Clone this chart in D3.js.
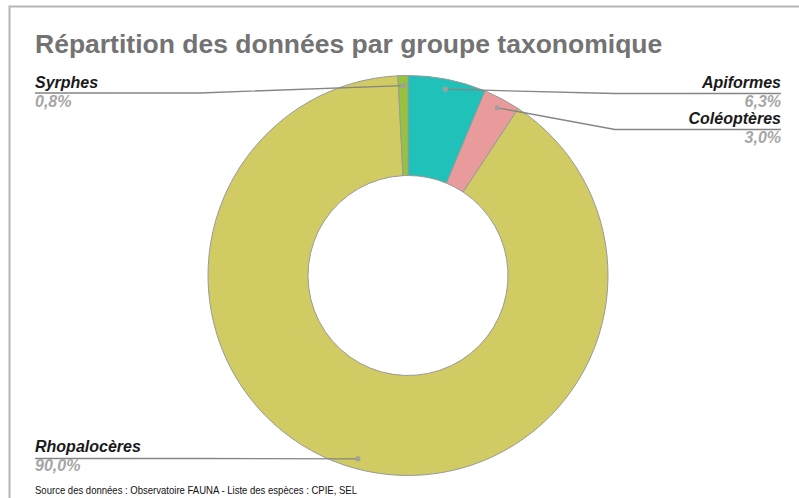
<!DOCTYPE html>
<html><head><meta charset="utf-8">
<script src="https://cdn.jsdelivr.net/npm/d3@7"></script>
<style>body{margin:0;background:#fff}svg{display:block;font-family:"Liberation Sans",Arial,sans-serif}</style>
</head><body>
<svg id="c" width="799" height="498"></svg>
<script>
const categories = ["Apiformes", "Coléoptères", "Rhopalocères", "Syrphes"];
const values = [6.3, 3.0, 90.0, 0.8];
const valueLabels = ["6,3%", "3,0%", "90,0%", "0,8%"];
const colors = ["#1fc1b8", "#e89b9a", "#d0cb62", "#96c23c"];
const title = "Répartition des données par groupe taxonomique";
const source = "Source des données : Observatoire FAUNA - Liste des espèces : CPIE, SEL";

const svg = d3.select("#c");
svg.append("rect").attr("x", 9.5).attr("y", 6.5).attr("width", 900).attr("height", 600)
  .attr("fill", "none").attr("stroke", "#b5b5b5").attr("stroke-width", 2);

svg.append("text").attr("x", 35).attr("y", 53).attr("font-size", 26.5).attr("font-weight", "bold")
  .attr("fill", "#737373").text(title);

const cx = 408, cy = 275.5, R = 200, r = 100;
const g = svg.append("g").attr("transform", `translate(${cx},${cy})`);
const pie = d3.pie().sort(null).value(d => d)(values);
const arc = d3.arc().innerRadius(r).outerRadius(R);
g.selectAll("path").data(pie).join("path").attr("d", arc)
  .attr("fill", (d, i) => colors[i]).attr("stroke", "#9a9a9a").attr("stroke-width", 1);

const dotArc = d3.arc().innerRadius(190).outerRadius(190);
const layout = {
  "Syrphes": {side: "left", y: 88, ly: 93, bend: 200},
  "Apiformes": {side: "right", y: 88, ly: 93.5, bend: 615},
  "Coléoptères": {side: "right", y: 124, ly: 129.5, bend: 615},
  "Rhopalocères": {side: "left", y: 452, ly: 458.5, bend: 200}
};
pie.forEach((d, i) => {
  const L = layout[categories[i]];
  const [px, py] = dotArc.centroid(d);
  const dx = cx + px, dy = cy + py;
  const xEnd = L.side === "left" ? 35 : 781;
  svg.append("polyline").attr("points", `${dx},${dy} ${L.bend},${L.ly} ${xEnd},${L.ly}`)
    .attr("fill", "none").attr("stroke", "#858585").attr("stroke-width", 1.3);
  svg.append("circle").attr("cx", dx).attr("cy", dy).attr("r", 2.6).attr("fill", "#a0a0a0");
  const anchor = L.side === "left" ? "start" : "end";
  svg.append("text").attr("x", xEnd).attr("y", L.y).attr("text-anchor", anchor)
    .attr("font-size", 16).attr("font-weight", "bold").attr("font-style", "italic")
    .attr("fill", "#1a1a1a").text(categories[i]);
  svg.append("text").attr("x", xEnd).attr("y", L.y + 19).attr("text-anchor", anchor)
    .attr("font-size", 16).attr("font-weight", "bold").attr("font-style", "italic")
    .attr("fill", "#a6a6a6").text(valueLabels[i]);
});

svg.append("text").attr("x", 35).attr("y", 494).attr("font-size", 11.5).attr("fill", "#111")
  .attr("textLength", 322).attr("lengthAdjust", "spacingAndGlyphs").text(source);
</script>
</body></html>
